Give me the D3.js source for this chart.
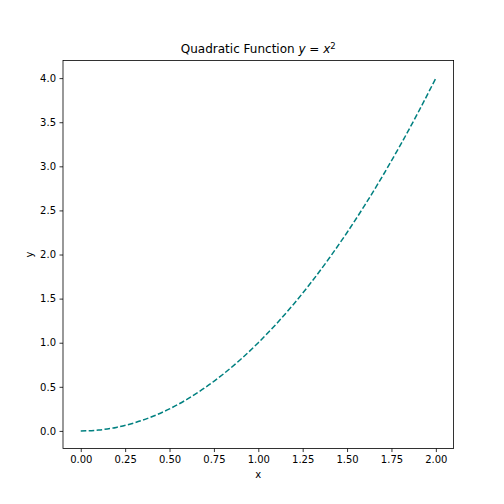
<!DOCTYPE html>
<html>
<head>
<meta charset="utf-8">
<script src="https://d3js.org/d3.v7.min.js"></script>
<style>
  body { margin: 0; background: #fff; }
  svg { display: block; font-family: "DejaVu Sans", sans-serif; }
</style>
</head>
<body>
<script>
// values
const xValues = [0.0, 0.1, 0.2, 0.3, 0.4, 0.5, 0.6, 0.7, 0.8, 0.9, 1.0,
                 1.1, 1.2, 1.3, 1.4, 1.5, 1.6, 1.7, 1.8, 1.9, 2.0];
const yValues = [0.0, 0.01, 0.04, 0.09, 0.16, 0.25, 0.36, 0.49, 0.64, 0.81, 1.0,
                 1.21, 1.44, 1.69, 1.96, 2.25, 2.56, 2.89, 3.24, 3.61, 4.0];
const xTicks = [0.0, 0.25, 0.5, 0.75, 1.0, 1.25, 1.5, 1.75, 2.0];
const yTicks = [0.0, 0.5, 1.0, 1.5, 2.0, 2.5, 3.0, 3.5, 4.0];

const WIDTH = 504, HEIGHT = 504;
const LEFT = 63, RIGHT = 453.6, TOP = 60.48, BOTTOM = 448.56;
const LINE_COLOR = 'teal';

const svg = d3.select('body').append('svg')
    .attr('width', WIDTH)
    .attr('height', HEIGHT);

const x = d3.scaleLinear().domain([-0.1, 2.1]).range([LEFT, RIGHT]);
const y = d3.scaleLinear().domain([-0.2, 4.2]).range([BOTTOM, TOP]);

const data = xValues.map((v, i) => ({x: v, y: yValues[i]}));

const line = d3.line()
    .x(d => x(d.x))
    .y(d => y(d.y))
    .curve(d3.curveMonotoneX);

svg.append('path')
    .datum(data)
    .attr('d', line)
    .attr('fill', 'none')
    .attr('stroke', LINE_COLOR)
    .attr('stroke-width', 1.5)
    .attr('stroke-dasharray', '5.55,2.4');

// axes
const xAxis = svg.append('g')
    .attr('transform', 'translate(0,' + BOTTOM + ')')
    .call(d3.axisBottom(x).tickValues(xTicks).tickFormat(d3.format('.2f'))
        .tickSizeInner(3.5).tickSizeOuter(0).tickPadding(3.5));
const yAxis = svg.append('g')
    .attr('transform', 'translate(' + LEFT + ',0)')
    .call(d3.axisLeft(y).tickValues(yTicks).tickFormat(d3.format('.1f'))
        .tickSizeInner(3.5).tickSizeOuter(0).tickPadding(3.5));

[xAxis, yAxis].forEach(g => {
    g.select('.domain').remove();
    g.selectAll('line').attr('stroke', '#000').attr('stroke-width', 0.8);
    g.selectAll('text').attr('fill', '#000').style('font-size', '10px')
        .style('font-family', '"DejaVu Sans", sans-serif');
});

// frame
svg.append('rect')
    .attr('x', LEFT).attr('y', TOP)
    .attr('width', RIGHT - LEFT).attr('height', BOTTOM - TOP)
    .attr('fill', 'none')
    .attr('stroke', '#000')
    .attr('stroke-width', 0.8);

// labels
svg.append('text')
    .attr('x', (LEFT + RIGHT) / 2).attr('y', 478)
    .attr('text-anchor', 'middle')
    .style('font-size', '10px')
    .text('x');

svg.append('text')
    .attr('transform', 'translate(33,' + ((TOP + BOTTOM) / 2) + ') rotate(-90)')
    .attr('text-anchor', 'middle')
    .style('font-size', '10px')
    .text('y');

const title = svg.append('text')
    .attr('x', (LEFT + RIGHT) / 2).attr('y', 53)
    .attr('text-anchor', 'middle')
    .style('font-size', '12px');
title.append('tspan').text('Quadratic Function ');
title.append('tspan').style('font-style', 'italic').text('y');
title.append('tspan').text(' = ');
title.append('tspan').style('font-style', 'italic').text('x');
title.append('tspan').attr('dy', -4.5).style('font-size', '8.5px').text('2');
</script>
</body>
</html>
